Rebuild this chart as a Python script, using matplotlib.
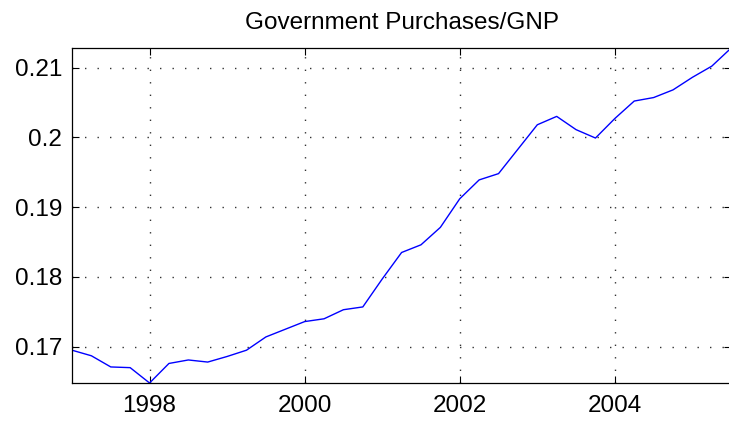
import numpy as np
import matplotlib
matplotlib.use('Agg')
import matplotlib.pyplot as plt
from matplotlib.ticker import FuncFormatter

# quarterly dates and government purchases / GNP ratio
dates = np.arange(1997, 2005.51, 0.25)
ratio = [0.1695, 0.1687, 0.1671, 0.1670, 0.1648, 0.1676, 0.1681, 0.1678,
         0.1686, 0.1695, 0.1714, 0.1725, 0.1736, 0.1740, 0.1753, 0.1757,
         0.1797, 0.1835, 0.1846, 0.1871, 0.1912, 0.1939, 0.1948, 0.1983,
         0.2018, 0.2030, 0.2011, 0.1999, 0.2027, 0.2052, 0.2057, 0.2068,
         0.2086, 0.2102, 0.2128]
xticks = [1998, 2000, 2002, 2004]
yticks = [0.17, 0.18, 0.19, 0.20, 0.21]

plt.rcParams['font.family'] = ['Liberation Sans', 'DejaVu Sans']

fig = plt.figure(figsize=(7.29, 4.21), dpi=100)
ax = fig.add_axes([72/729, 1-383/421, 1.003-72/729, (383-48)/421])

ax.plot(dates, ratio, color='#0000ff', lw=1.0)

ax.set_xlim(1997, 2005.5)
ax.set_ylim(min(ratio), max(ratio))
ax.set_xticks(xticks)
ax.set_yticks(yticks)
ax.yaxis.set_major_formatter(FuncFormatter(lambda v, p: '%g' % round(v, 4)))

ax.grid(True, color='#333333', linestyle=(0, (1, 8)), lw=1.0)
ax.tick_params(direction='in', length=5, width=0.8, top=True, right=True,
               labelsize=17.5)
ax.tick_params(axis='x', pad=9)
ax.tick_params(axis='y', pad=7)
for s in ax.spines.values():
    s.set_linewidth(0.9)

ax.set_title('Government Purchases/GNP', fontsize=17.5, pad=14)

fig.savefig('out.png', dpi=100)
